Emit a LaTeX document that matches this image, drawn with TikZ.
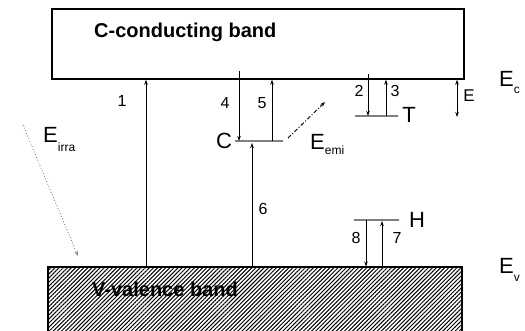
\documentclass[tikz,border=0pt]{standalone}
\usepackage{fontspec}
\setmainfont{Liberation Sans}
\usetikzlibrary{arrows.meta,patterns.meta}
\newcommand{\lowsub}[2][8pt]{\raisebox{-#1}{\fontsize{12}{12}\selectfont #2}}

\begin{document}
\begin{tikzpicture}[
  x=1pt, y=-1pt,
  cband/.style={draw, line width=1.4pt, minimum width=412pt, minimum height=70pt, inner sep=0pt},
  vband/.style={draw, line width=1.4pt, pattern={Lines[angle=45, distance=2.9pt, line width=1pt]}, minimum width=414pt, minimum height=100pt, inner sep=0pt},
  bandtext/.style={font=\fontsize{20}{20}\selectfont\bfseries, anchor=west, inner sep=0pt},
  level/.style={draw=gray, line width=1.3pt, inner sep=0pt, minimum height=0pt, minimum width=#1},
  num/.style={font=\fontsize{16}{16}\selectfont, inner sep=0pt},
  big/.style={font=\fontsize{22}{22}\selectfont, inner sep=0pt},
  arrow/.style={-{Stealth[length=5pt,width=3.5pt]}, line width=0.9pt},
  twoway/.style={{Stealth[length=5pt,width=3.5pt]}-{Stealth[length=5pt,width=3.5pt]}, line width=0.9pt},
  emission/.style={arrow, dash pattern=on 4pt off 2pt on 1pt off 2pt},
  irradiation/.style={arrow, gray, dotted}
]
\useasboundingbox (0,0) rectangle (525,331);
\node[cband] (cb) at (258,44) {};
\node[vband] (vb) at (255,317) {};
\node[bandtext] (cbt) at (94,32) {C-conducting band};
\node[bandtext] (vbt) at (92,289) {V-valence band};

\node[level=48pt] (lvC) at (259,141) {};
\node[level=43pt] (lvT) at (376.5,116) {};
\node[level=45pt] (lvH) at (376.5,220) {};

\coordinate (x1) at (146,0);
\coordinate (x3) at (386,0);
\coordinate (x5) at (272,0);
\coordinate (x6) at (252,0);
\coordinate (x7) at (382,0);
\coordinate (x8) at (366,0);
\coordinate (t4) at (239,71);
\coordinate (t2) at (368,74);
\coordinate (bE) at (457,117);
\coordinate (emi0) at (288,138);
\coordinate (emi1) at (325,102);
\coordinate (irr0) at (23,125);
\coordinate (irr1) at (78,256);

\draw[arrow] (x1 |- vb.north) -- (x1 |- cb.south);
\draw[arrow] (t2) -- (t2 |- lvT);
\draw[arrow] (x3 |- lvT) -- (x3 |- cb.south);
\draw[arrow] (t4) -- (t4 |- lvC);
\draw[arrow] (x5 |- lvC) -- (x5 |- cb.south);
\draw[arrow, shorten >=2pt] (x6 |- vb.north) -- (x6 |- lvC);
\draw[arrow, shorten >=1pt] (x7 |- vb.north) -- (x7 |- lvH);
\draw[arrow] (x8 |- lvH) -- (x8 |- vb.north);
\draw[twoway] (bE |- cb.south) -- (bE);
\draw[emission] (emi0) -- (emi1);
\draw[irradiation] (irr0) -- (irr1);

\node[num] (n1) at (122,101) {1};
\node[num] (n2) at (359,91) {2};
\node[num] (n3) at (395,91) {3};
\node[num] (n4) at (225,103) {4};
\node[num] (n5) at (262,103) {5};
\node[num] (n6) at (263,209) {6};
\node[num] (n7) at (397,238) {7};
\node[num] (n8) at (356,238) {8};
\node[num, font=\fontsize{17}{17}\selectfont] (nE) at (469,96) {E};

\node[big] (lC) at (224,141) {C};
\node[big] (lT) at (409,115) {T};
\node[big] (lH) at (417,220) {H};
\node[big, anchor=base west] (Ec) at (499,87) {E\lowsub[7pt]{c}};
\node[big, anchor=base west] (Ev) at (499,273) {E\lowsub[9pt]{v}};
\node[big, anchor=base west] (Eemi) at (310,150) {E\lowsub[5pt]{emi}};
\node[big, anchor=base west] (Eirra) at (43,143) {E\lowsub[9pt]{irra}};
\end{tikzpicture}
\end{document}
